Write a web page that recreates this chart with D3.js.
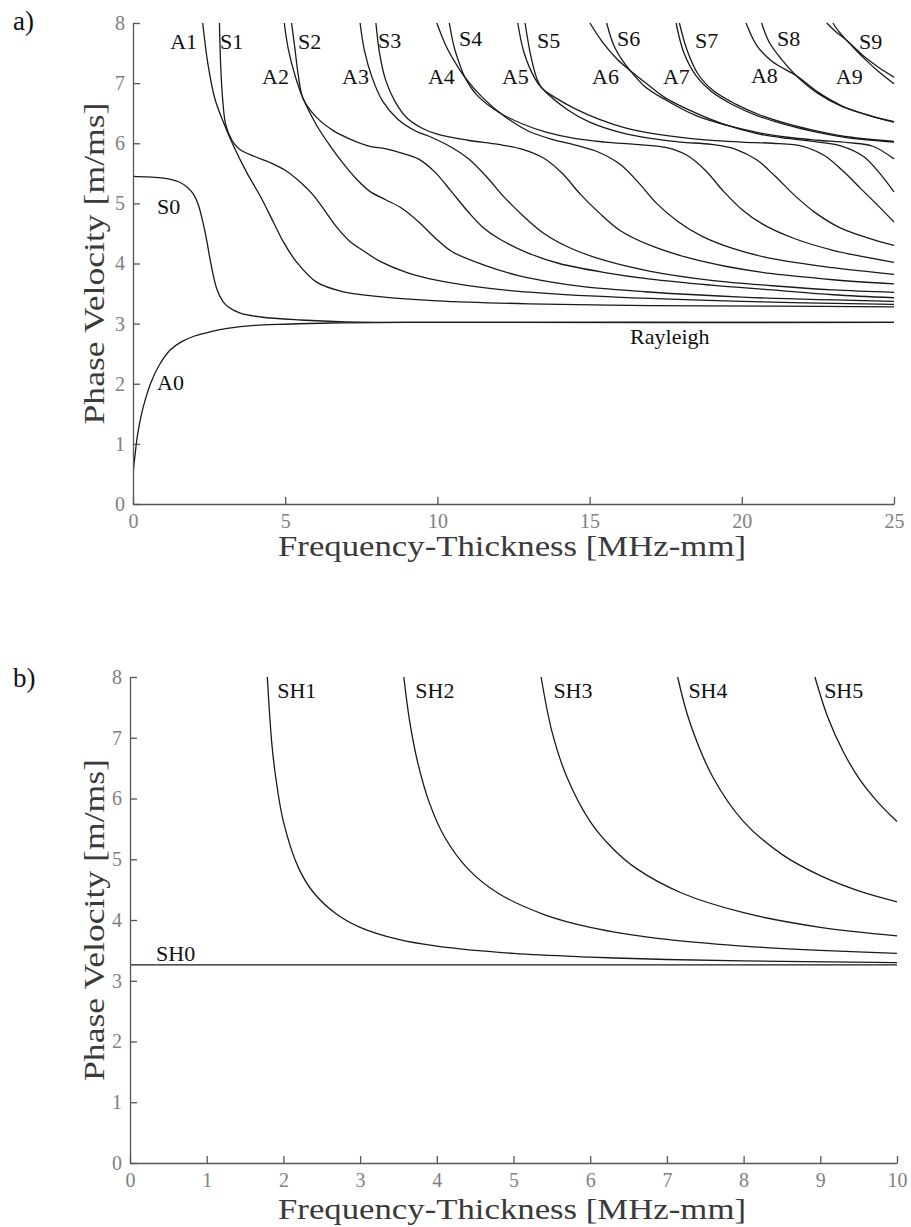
<!DOCTYPE html>
<html>
<head>
<meta charset="utf-8">
<script src="https://cdn.jsdelivr.net/npm/d3@7"></script>
<style>
  body { margin: 0; background: #fff; }
  svg { display: block; font-family: "Liberation Serif", "DejaVu Serif", serif; }
  .curve { fill: none; stroke: #1a1a1a; stroke-width: 1.3; }
  .axis path, .axis line { stroke: #555; stroke-width: 1.3; }
  .axis text { fill: #808080; font-size: 20px; font-family: "Liberation Serif", serif; }
  .mode-label { fill: #111; font-size: 22px; }
  .axis-title { fill: #3a3a3a; font-size: 29px; }
  .panel-tag { fill: #111; font-size: 27px; }
</style>
</head>
<body>
<div id="chart"></div>
<script>
// ---- panel a: Lamb modes, [frequency-thickness, phase velocity] ----
const A0 = [[0,0.45],[0.03,0.65],[0.07,0.82],[0.12,1.05],[0.2,1.3],[0.34,1.62],[0.58,2.01],[0.85,2.3],[1.22,2.56],[1.6,2.7],[2.0,2.79],[2.5,2.86],[3.1,2.92],[4.0,2.97],[5.0,2.99],[6.5,3.01],[9,3.02],[25,3.02]];
const S0 = [[0,5.45],[0.5,5.44],[1.0,5.42],[1.5,5.36],[1.8,5.26],[2.0,5.14],[2.15,4.97],[2.3,4.68],[2.42,4.39],[2.55,4.02],[2.75,3.58],[2.95,3.37],[3.1,3.29],[3.5,3.18],[4.2,3.11],[5.5,3.06],[7,3.03],[10,3.02],[25,3.02]];
const A1 = [[2.29,8.0],[2.47,7.29],[2.69,6.74],[2.97,6.35],[3.3,5.96],[3.73,5.52],[4.17,5.13],[4.61,4.69],[4.94,4.36],[5.38,4.02],[6.03,3.69],[6.91,3.53],[8.1,3.45],[10,3.38],[13,3.33],[17,3.3],[21,3.29],[25,3.28]];
const S1 = [[2.84,8.0],[2.88,7.3],[2.95,6.7],[3.05,6.3],[3.25,6.05],[3.5,5.9],[4.0,5.78],[4.5,5.68],[5.0,5.55],[5.5,5.35],[5.9,5.15],[6.2,4.95],[6.7,4.6],[7.1,4.38],[7.6,4.2],[8.1,4.04],[9,3.85],[10,3.72],[12,3.57],[15,3.46],[20,3.37],[25,3.32]];
const A2 = [[4.97,8.0],[5.1,7.57],[5.32,7.13],[5.59,6.74],[6.03,6.3],[6.47,5.96],[6.91,5.66],[7.35,5.4],[7.78,5.2],[8.3,5.06],[8.83,4.92],[9.37,4.7],[9.92,4.43],[10.47,4.2],[11.56,3.97],[12.66,3.8],[13.75,3.69],[14.85,3.61],[16.82,3.53],[20,3.44],[25,3.37]];
const S2 = [[5.21,8.0],[5.32,7.57],[5.43,7.13],[5.59,6.74],[6.03,6.43],[6.58,6.21],[7.13,6.07],[7.78,5.95],[8.28,5.91],[8.8,5.84],[9.37,5.74],[9.92,5.52],[10.47,5.19],[11.01,4.86],[11.5,4.6],[12,4.42],[13,4.17],[14,4.0],[15.5,3.85],[17,3.74],[19,3.64],[21,3.56],[23,3.48],[25,3.43]];
const A3 = [[7.46,8],[7.6,7.55],[7.85,7.1],[8.2,6.7],[8.7,6.4],[9.3,6.2],[9.8,6.1],[10.4,5.95],[11,5.75],[11.6,5.45],[12.2,5.1],[12.8,4.8],[13.5,4.5],[14.4,4.25],[15.5,4.05],[17,3.87],[19,3.72],[21,3.63],[23,3.56],[25,3.52]];
const S3 = [[7.98,8],[8.1,7.5],[8.3,7.05],[8.6,6.7],[9.0,6.42],[9.5,6.25],[10,6.15],[11,6.05],[12,5.98],[12.8,5.9],[13.5,5.75],[14.1,5.5],[14.7,5.15],[15.3,4.85],[16,4.55],[17,4.3],[18.2,4.1],[19.5,3.95],[21,3.83],[23,3.73],[25,3.66]];
const A4 = [[9.98,8],[10.3,7.6],[10.6,7.33],[10.9,7.1],[11.5,6.75],[12.2,6.45],[13,6.2],[13.8,6.06],[14.6,5.96],[15.3,5.85],[16,5.65],[16.6,5.35],[17.2,5.0],[17.9,4.7],[18.7,4.45],[19.7,4.25],[21,4.08],[23,3.93],[25,3.82]];
const S4 = [[10.39,8],[10.55,7.6],[10.72,7.33],[10.9,7.1],[11.3,6.8],[12,6.52],[12.8,6.32],[13.6,6.18],[14.5,6.08],[15.5,6.02],[16.5,5.98],[17.5,5.93],[18.2,5.8],[18.8,5.55],[19.4,5.2],[20,4.9],[20.7,4.65],[21.7,4.42],[23,4.22],[25,4.02]];
const A5 = [[12.64,8],[12.85,7.5],[13.2,7.08],[13.43,6.92],[14.3,6.55],[15,6.35],[16,6.18],[17,6.08],[18,6.02],[19,5.98],[19.8,5.9],[20.5,5.72],[21.1,5.45],[21.7,5.15],[22.4,4.85],[23.2,4.6],[24.1,4.43],[25,4.3]];
const S5 = [[12.88,8],[13.05,7.5],[13.25,7.1],[13.43,6.92],[13.9,6.75],[14.5,6.58],[15.3,6.4],[16.2,6.25],[17.2,6.15],[18.5,6.07],[20,6.02],[21,6.0],[22,5.95],[22.7,5.8],[23.3,5.55],[23.9,5.25],[24.5,4.95],[25,4.69]];
const A6 = [[15.01,8],[15.4,7.7],[15.9,7.4],[16.33,7.21],[16.9,6.98],[17.5,6.75],[18.5,6.5],[19.5,6.3],[20.5,6.16],[21.5,6.08],[22.5,6.02],[23.3,5.95],[24,5.78],[24.5,5.52],[25,5.19]];
const S6 = [[15.56,8],[15.8,7.62],[16.05,7.4],[16.33,7.21],[16.8,6.95],[17.5,6.72],[18.5,6.46],[19.5,6.3],[20.5,6.18],[21.5,6.1],[22.5,6.05],[23.5,6.01],[24.3,5.95],[25,5.74]];
const A7 = [[17.84,8],[18.1,7.5],[18.5,7.12],[19,6.86],[19.7,6.64],[20.5,6.46],[21.5,6.3],[22.5,6.18],[23.5,6.09],[25,6.02]];
const S7 = [[17.95,8],[18.2,7.55],[18.55,7.16],[19.05,6.88],[19.8,6.65],[20.6,6.47],[21.6,6.31],[22.6,6.19],[23.6,6.1],[25,6.03]];
const A8 = [[20.14,8],[20.5,7.62],[21,7.36],[21.8,7.12],[22.5,6.85],[23.3,6.62],[24.2,6.46],[25,6.35]];
const S8 = [[20.65,8],[20.9,7.68],[21.3,7.4],[21.8,7.12],[22.5,6.83],[23.3,6.61],[24.2,6.46],[25,6.36]];
const A9 = [[22.79,8],[23.1,7.85],[23.45,7.71],[24.0,7.45],[24.5,7.26],[25,7.1]];
const S9 = [[22.99,8],[23.2,7.85],[23.45,7.71],[24.0,7.42],[24.5,7.19],[25,6.99]];

const lambModes = {A0, S0, A1, S1, A2, S2, A3, S3, A4, S4, A5, S5, A6, S6, A7, S7, A8, S8, A9, S9};

// label anchors (data coordinates)
const lambLabels = [
  ["A1",1.22,7.57],["S1",2.86,7.57],["A2",4.24,6.99],["S2",5.42,7.57],
  ["A3",6.87,6.99],["S3",8.05,7.59],["A4",9.69,6.99],["S4",10.71,7.62],
  ["A5",12.12,6.99],["S5",13.27,7.59],["A6",15.08,6.99],["S6",15.9,7.62],
  ["A7",17.41,6.99],["S7",18.46,7.59],["A8",20.3,7.01],["S8",21.16,7.62],
  ["A9",23.09,6.99],["S9",23.85,7.57],["S0",0.79,4.83],["A0",0.79,1.89],
  ["Rayleigh",16.33,2.66]
];

// ---- panel b: SH modes ----
const SH0 = [[0,3.26],[10,3.26]];
const SH1 = [[1.79,8.0],[1.85,6.89],[1.9,6.35],[2.0,5.62],[2.2,4.85],[2.4,4.44],[2.7,4.09],[3.0,3.88],[3.5,3.68],[4.0,3.57],[5.0,3.45],[6.0,3.39],[7.0,3.35],[8.5,3.32],[10,3.3]];
const SH2 = [[3.57,8.0],[3.65,7.24],[3.75,6.6],[3.9,5.94],[4.1,5.37],[4.4,4.85],[4.8,4.44],[5.4,4.09],[6.0,3.88],[7.0,3.68],[8.0,3.57],[9.0,3.5],[10,3.45]];
const SH3 = [[5.36,8.0],[5.5,7.11],[5.7,6.34],[6.0,5.62],[6.3,5.17],[6.6,4.85],[7.2,4.44],[8.0,4.12],[9.0,3.88],[10,3.74]];
const SH4 = [[7.14,8.0],[7.3,7.25],[7.6,6.35],[8.0,5.62],[8.5,5.08],[9.0,4.73],[9.5,4.48],[10,4.3]];
const SH5 = [[8.93,8.0],[9.1,7.33],[9.3,6.77],[9.5,6.34],[9.75,5.94],[10,5.62]];

const shModes = {SH0, SH1, SH2, SH3, SH4, SH5};

const shLabels = [
  ["SH0",0.34,3.33],["SH1",1.92,7.65],["SH2",3.72,7.65],["SH3",5.52,7.65],
  ["SH4",7.28,7.66],["SH5",9.05,7.66]
];

const xTicksA = [0,5,10,15,20,25];
const xTicksB = [0,1,2,3,4,5,6,7,8,9,10];
const yTicks = [0,1,2,3,4,5,6,7,8];

const svg = d3.select("#chart").append("svg")
  .attr("width", 911)
  .attr("height", 1227);

function drawPanel(cfg) {
  const x = d3.scaleLinear().domain(cfg.xDomain).range([cfg.left, cfg.right]);
  const y = d3.scaleLinear().domain([0, 8]).range([cfg.bottom, cfg.top]);
  const g = svg.append("g");

  g.append("clipPath").attr("id", cfg.id + "-clip")
    .append("rect")
    .attr("x", cfg.left).attr("y", cfg.top - 1)
    .attr("width", cfg.right - cfg.left + 1)
    .attr("height", cfg.bottom - cfg.top + 1);

  const line = d3.line()
    .x(d => x(d[0]))
    .y(d => y(d[1]))
    .curve(d3.curveCatmullRom.alpha(0.5));

  g.append("g").attr("clip-path", "url(#" + cfg.id + "-clip)")
    .selectAll("path")
    .data(Object.entries(cfg.modes))
    .enter()
    .append("path")
    .attr("class", "curve")
    .attr("id", d => "mode_" + d[0])
    .attr("d", d => line(d[1]));

  // axes, ticks point inwards
  g.append("g").attr("class", "axis")
    .attr("transform", "translate(0," + cfg.bottom + ")")
    .call(d3.axisBottom(x).tickValues(cfg.xTicks).tickSizeInner(-7).tickSizeOuter(0).tickPadding(10));
  g.append("g").attr("class", "axis")
    .attr("transform", "translate(" + cfg.left + ",0)")
    .call(d3.axisLeft(y).tickValues(yTicks).tickSizeInner(-7).tickSizeOuter(0).tickPadding(8));

  g.selectAll(".mode-label-" + cfg.id)
    .data(cfg.labels)
    .enter()
    .append("text")
    .attr("class", "mode-label")
    .attr("x", d => x(d[1]))
    .attr("y", d => y(d[2]))
    .text(d => d[0]);

  // axis titles
  g.append("text")
    .attr("class", "axis-title")
    .attr("x", 512).attr("y", cfg.bottom + cfg.titleDy)
    .attr("text-anchor", "middle")
    .attr("textLength", 468).attr("lengthAdjust", "spacingAndGlyphs")
    .text("Frequency-Thickness [MHz-mm]");
  g.append("text")
    .attr("class", "axis-title")
    .attr("transform", "translate(104," + ((cfg.top + cfg.bottom) / 2) + ") rotate(-90)")
    .attr("text-anchor", "middle")
    .attr("textLength", 322).attr("lengthAdjust", "spacingAndGlyphs")
    .text("Phase Velocity [m/ms]");

  g.append("text").attr("class", "panel-tag")
    .attr("x", 13).attr("y", cfg.top + cfg.tagDy)
    .text(cfg.tag);
}

drawPanel({id: "a", xDomain: [0, 25], left: 133, right: 894, top: 23, bottom: 504,
  modes: lambModes, labels: lambLabels, xTicks: xTicksA, tag: "a)", tagDy: 7, titleDy: 52});
drawPanel({id: "b", xDomain: [0, 10], left: 130, right: 897, top: 677, bottom: 1163,
  modes: shModes, labels: shLabels, xTicks: xTicksB, tag: "b)", tagDy: 10, titleDy: 56});
</script>
</body>
</html>
